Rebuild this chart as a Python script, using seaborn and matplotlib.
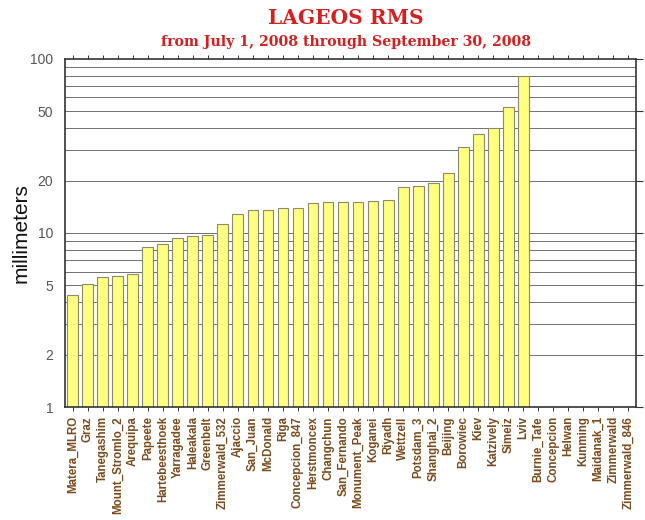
import numpy as np
import pandas as pd
import matplotlib
matplotlib.use("Agg")
import matplotlib.pyplot as plt
from matplotlib.ticker import FixedLocator, NullFormatter, FixedFormatter
import seaborn as sns

stations = [
    "Matera_MLRO", "Graz", "Tanegashim", "Mount_Stromlo_2", "Arequipa", "Papeete",
    "Hartebeesthoek", "Yarragadee", "Haleakala", "Greenbelt", "Zimmerwald_532",
    "Ajaccio", "San_Juan", "McDonald", "Riga", "Concepcion_847", "Herstmoncex",
    "Changchun", "San_Fernando", "Monument_Peak", "Koganei", "Riyadh", "Wettzell",
    "Potsdam_3", "Shanghai_2", "Beijing", "Borowiec", "Kiev", "Katzively", "Simeiz",
    "Lviv", "Burnie_Tafe", "Concepcion", "Helwan", "Kunming", "Maidanak_1",
    "Zimmerwald", "Zimmerwald_846",
]
rms_mm = [
    4.4, 5.1, 5.6, 5.65, 5.85, 8.3,
    8.6, 9.3, 9.6, 9.7, 11.2,
    12.8, 13.6, 13.6, 14.0, 14.0, 14.9,
    15.0, 15.0, 15.0, 15.2, 15.4, 18.3,
    18.6, 19.3, 22.0, 31.0, 37.0, 40.3, 53.0,
    80.0, np.nan, np.nan, np.nan, np.nan, np.nan,
    np.nan, np.nan,
]
y_ticks = [1, 2, 5, 10, 20, 50, 100]
grid_values = [2, 3, 4, 5, 6, 7, 8, 9, 10, 20, 30, 40, 50, 60, 70, 80, 90]

df = pd.DataFrame({"station": stations, "rms": rms_mm})

sns.set_style("white")
plt.rcParams["font.family"] = ["Liberation Sans", "DejaVu Sans"]

fig = plt.figure(figsize=(6.45, 5.2), dpi=100)
ax = fig.add_axes([0.101, 0.217, 0.885, 0.670])

ax.set_yscale("log")
for g in grid_values:
    ax.axhline(g, color="#707070", lw=0.7, zorder=0)

sns.barplot(data=df, x="station", y="rms", ax=ax, color="#ffff80",
            saturation=1, edgecolor="#8a8a70", linewidth=0.8, width=0.72,
            zorder=2)

ax.set_ylim(1, 100)
ax.set_xlim(-0.5, len(stations) - 0.5)
ax.yaxis.set_major_locator(FixedLocator(y_ticks))
ax.yaxis.set_major_formatter(FixedFormatter([str(t) for t in y_ticks]))
ax.yaxis.set_minor_formatter(NullFormatter())
ax.yaxis.set_minor_locator(FixedLocator([]))
ax.tick_params(axis="y", which="major", length=5, width=0.8, colors="#333333",
               labelcolor="#555555", labelsize=10, right=True, direction="out")
ax.tick_params(axis="x", length=3, width=0.7, top=True, bottom=True,
               direction="out", colors="#333333")
ax.set_xticks(range(len(stations)))
ax.set_xticklabels(stations, rotation=90, fontsize=8.3, fontweight="bold")
for lbl in ax.get_xticklabels():
    lbl.set_color("#7a4a1c")

ax.set_xlabel("")
ax.set_ylabel("millimeters", fontsize=15, color="#111111")
ax.yaxis.set_label_coords(-0.06, 0.5)

for side in ax.spines.values():
    side.set_visible(True)
    side.set_color("#333333")
    side.set_linewidth(1.2)

fig.text(0.536, 0.965, "LAGEOS RMS", ha="center", va="center",
         fontsize=14.5, fontweight="bold", color="#d42020", family="DejaVu Serif")
fig.text(0.536, 0.919, "from July 1, 2008 through September 30, 2008",
         ha="center", va="center", fontsize=10.2, fontweight="bold",
         color="#d42020", family="DejaVu Serif")

fig.savefig("out.png", dpi=100)
